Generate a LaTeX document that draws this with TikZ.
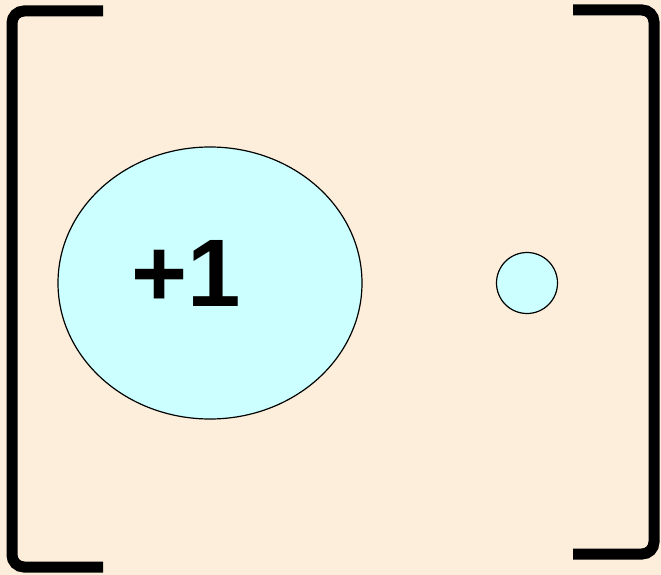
\documentclass[tikz,border=0pt]{standalone}
\usepackage{fontspec}
\setmainfont{Liberation Sans}
\usepackage{tikz}
\usetikzlibrary{shapes.geometric}
\usepackage{xcolor}
\definecolor{cBack}{HTML}{FCEEDA}
\definecolor{cCyan}{HTML}{CCFFFF}

\begin{document}
\begin{tikzpicture}[
  x=1pt, y=-1pt,
  bracket/.style={line width=11pt, rounded corners=12pt},
  ball/.style={draw, fill=cCyan, line width=1.2pt, inner sep=0pt}
]
\fill[cBack] (0,0) rectangle (661,575);
\useasboundingbox (0,0) rectangle (661,575);
\node[ball, ellipse, minimum width=304pt, minimum height=272pt] (nucleus) at (210,283) {};
\node[font=\bfseries\fontsize{96}{96}\selectfont, inner sep=0pt] (charge) at (186,273) {+1};
\node[ball, circle, minimum size=61pt] (electron) at (527,283) {};
% brackets
\draw[bracket] (103,11) -- (12,11) -- (12,567) -- (103,567);
\draw[bracket] (573,10) -- (654,10) -- (654,554) -- (573,554);
\end{tikzpicture}
\end{document}
